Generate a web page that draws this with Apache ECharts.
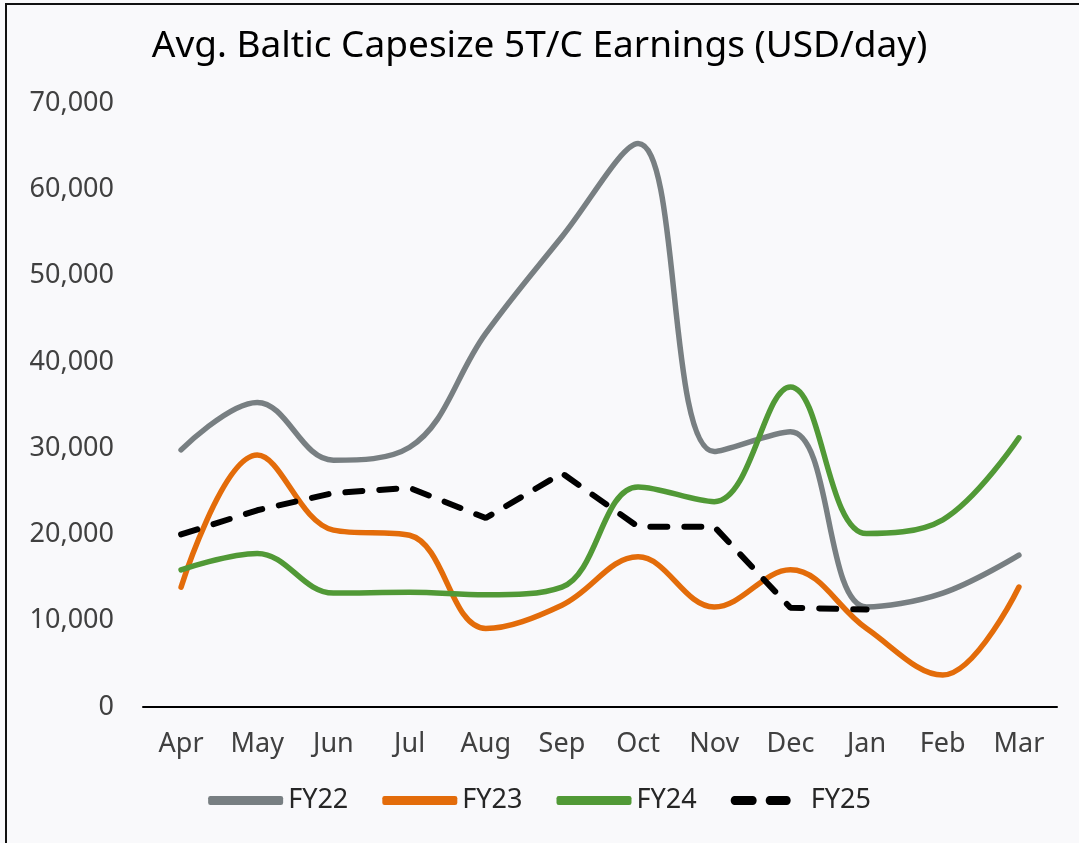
<!DOCTYPE html>
<html>
<head>
  <meta charset="UTF-8" />
  <title>Avg. Baltic Capesize 5T/C Earnings</title>
  <script src="https://cdn.jsdelivr.net/npm/echarts@6/dist/echarts.min.js"></script>
  <style>
    html, body { margin: 0; padding: 0; background: #f9f9fb; overflow: hidden; }
    #frame { position: absolute; left: 5px; top: 3px; width: 1200px; height: 1000px;
             border-left: 2px solid #111; border-top: 2px solid #111; pointer-events: none; }
    #myChart { width: 1079px; height: 843px; }
  </style>
</head>
<body>
  <div id="myChart"></div>
  <div id="frame"></div>

  <script>
    // months of the fiscal year (Apr - Mar)
    const months = ['Apr', 'May', 'Jun', 'Jul', 'Aug', 'Sep', 'Oct', 'Nov', 'Dec', 'Jan', 'Feb', 'Mar'];

    // USD/day
    const fy22 = [29800, 35300, 28600, 30100, 43300, 54500, 65300, 29600, 31900, 11600, 13200, 17600];
    const fy23 = [13900, 29200, 20500, 19900, 9100, 11800, 17400, 11600, 15900, 9100, 3700, 13900];
    const fy24 = [15900, 17800, 13200, 13300, 13000, 13900, 25500, 23800, 37100, 20100, 21700, 31200];
    const fy25 = [20000, 22800, 24800, 25400, 21900, 27100, 20900, 20900, 11500, 11300, null, null];

    const chart = echarts.init(document.getElementById('myChart'));
    const font = '"Noto Sans", sans-serif';

    // two rounded dashes for the FY25 legend key (tiny sliver keeps the full width)
    const dashIcon = 'path://M4,0h18a4,4 0 0 1 0,8h-18a4,4 0 0 1 0,-8z' +
      'M39,0h17a4,4 0 0 1 0,8h-17a4,4 0 0 1 0,-8z M74.9,4h0.1v0.01h-0.1z';

    function solid(name, data, color) {
      return {
        name: name,
        type: 'line',
        data: data,
        smooth: 0.38,
        symbol: 'none',
        lineStyle: { color: color, width: 5.5, cap: 'round' },
        itemStyle: { color: color }
      };
    }

    const option = {
      backgroundColor: 'transparent',
      animation: false,
      title: {
        text: 'Avg. Baltic Capesize 5T/C Earnings (USD/day)',
        left: 'center',
        top: 28,
        padding: 0,
        textStyle: { fontFamily: font, fontSize: 37, fontWeight: 'normal', color: '#000' }
      },
      legend: {
        bottom: 24,
        left: 'center',
        itemWidth: 75,
        itemHeight: 9,
        itemGap: 34,
        symbolKeepAspect: false,
        textStyle: { fontFamily: font, fontSize: 27, color: '#262626' },
        data: [
          { name: 'FY22', icon: 'roundRect' },
          { name: 'FY23', icon: 'roundRect' },
          { name: 'FY24', icon: 'roundRect' },
          { name: 'FY25', icon: dashIcon }
        ]
      },
      grid: { left: 143, right: 22, top: 103, bottom: 136, containLabel: false },
      xAxis: {
        type: 'category',
        data: months,
        boundaryGap: true,
        axisLine: { lineStyle: { color: '#000', width: 2 } },
        axisTick: { show: false },
        axisLabel: { fontFamily: font, fontSize: 27, color: '#404040', margin: 24 }
      },
      yAxis: {
        type: 'value',
        min: 0,
        max: 70000,
        interval: 10000,
        splitLine: { show: false },
        axisLine: { show: false },
        axisTick: { show: false },
        axisLabel: {
          fontFamily: font, fontSize: 27, color: '#404040', margin: 29,
          formatter: v => v.toLocaleString('en-US')
        }
      },
      series: [
        solid('FY22', fy22, '#787f82'),
        solid('FY23', fy23, '#e36c0a'),
        solid('FY24', fy24, '#519936'),
        {
          name: 'FY25',
          type: 'line',
          data: fy25,
          smooth: false,
          symbol: 'none',
          lineStyle: { color: '#000', width: 6, type: [17, 17], cap: 'round' },
          itemStyle: { color: '#000' }
        }
      ]
    };

    chart.setOption(option);
  </script>
</body>
</html>
